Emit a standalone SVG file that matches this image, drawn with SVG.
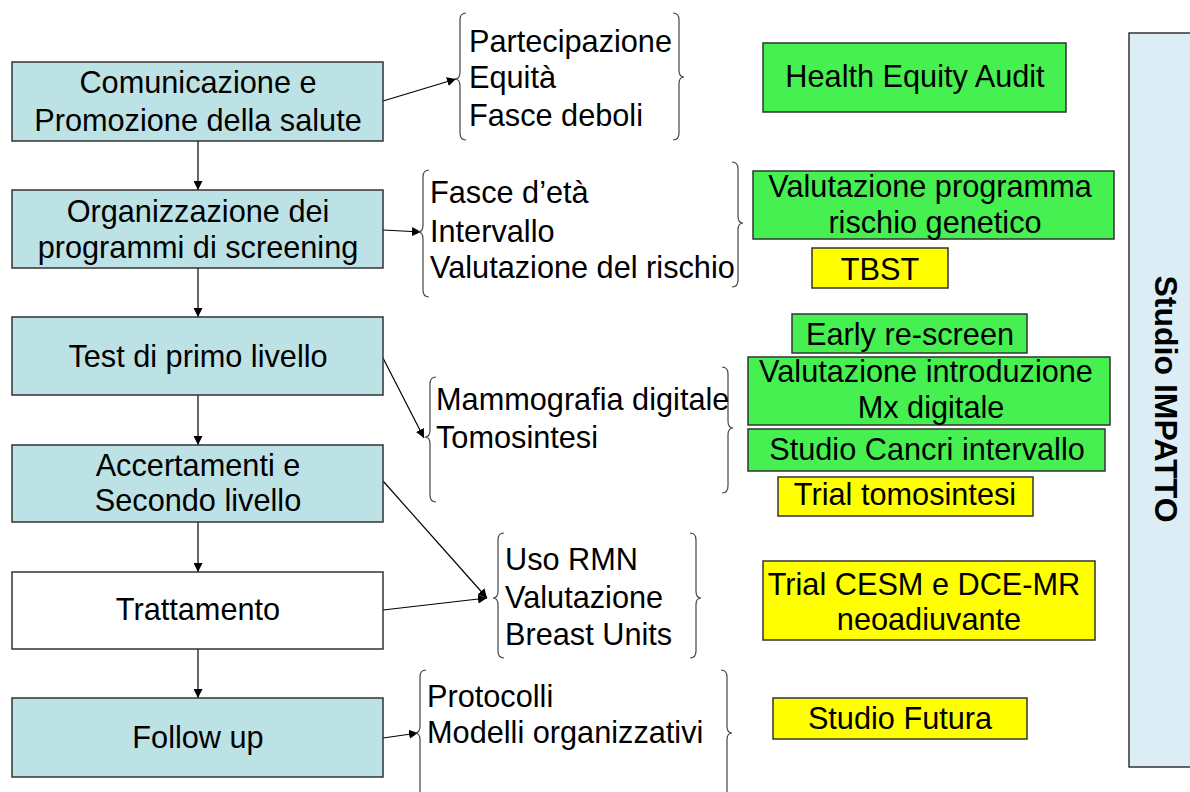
<svg xmlns="http://www.w3.org/2000/svg" width="1190" height="792" viewBox="0 0 1190 792">
<defs>
<style>
text{font-family:"Liberation Sans",Arial,sans-serif;font-size:30.7px;fill:#000}
.c{text-anchor:middle}
.flow{fill:#bde2e6;stroke:#333;stroke-width:1.5}
.white{fill:#fff;stroke:#333;stroke-width:1.5}
.green{fill:#45f050;stroke:#333;stroke-width:1.5}
.yellow{fill:#ffff00;stroke:#333;stroke-width:1.5}
.brace{fill:none;stroke:#444;stroke-width:1.2}
.conn{fill:none;stroke:#000;stroke-width:1.2;marker-end:url(#ah)}
</style>
<marker id="ah" viewBox="0 0 10 10" refX="10" refY="5" markerWidth="9" markerHeight="9" markerUnits="userSpaceOnUse" orient="auto">
<path d="M0,0 L10,5 L0,10 z" fill="#000"/>
</marker>
</defs>
<rect width="1190" height="792" fill="#fff"/>

<g id="studio-impatto">
<rect x="1129" y="33" width="70" height="734" fill="#ddedf6" stroke="#333" stroke-width="1.5"/>
<text class="c" transform="translate(1155,399) rotate(90)" style="font-weight:bold;font-size:32px">Studio IMPATTO</text>
</g>

<g id="connectors">
<line class="conn" x1="198" y1="141" x2="198" y2="190"/>
<line class="conn" x1="198" y1="268" x2="198" y2="317"/>
<line class="conn" x1="198" y1="395" x2="198" y2="445"/>
<line class="conn" x1="198" y1="522" x2="198" y2="572"/>
<line class="conn" x1="198" y1="649" x2="198" y2="698"/>
<line class="conn" x1="383" y1="101" x2="456" y2="79"/>
<line class="conn" x1="383" y1="230" x2="421" y2="232"/>
<line class="conn" x1="383" y1="358" x2="424" y2="438"/>
<line class="conn" x1="383" y1="481" x2="487" y2="598"/>
<line class="conn" x1="383" y1="610" x2="487" y2="598"/>
<line class="conn" x1="383" y1="738" x2="418" y2="733"/>
</g>

<g id="node-comunicazione">
<rect class="flow" x="12" y="62" width="371" height="79"/>
<text class="c" x="198" y="93">Comunicazione e</text>
<text class="c" x="198" y="131">Promozione della salute</text>
</g>
<g id="node-organizzazione">
<rect class="flow" x="12" y="190" width="371" height="78"/>
<text class="c" x="198" y="222">Organizzazione dei</text>
<text class="c" x="198" y="258">programmi di screening</text>
</g>
<g id="node-test">
<rect class="flow" x="12" y="317" width="371" height="78"/>
<text class="c" x="198" y="367">Test di primo livello</text>
</g>
<g id="node-accertamenti">
<rect class="flow" x="12" y="445" width="371" height="77"/>
<text class="c" x="198" y="476">Accertamenti e</text>
<text class="c" x="198" y="511">Secondo livello</text>
</g>
<g id="node-trattamento">
<rect class="white" x="12" y="572" width="371" height="77"/>
<text class="c" x="198" y="620">Trattamento</text>
</g>
<g id="node-followup">
<rect class="flow" x="12" y="698" width="371" height="79"/>
<text class="c" x="198" y="748">Follow up</text>
</g>

<g id="group-partecipazione">
<path class="brace" d="M466,13 Q460,13 460,20 L460,72 Q460,79 455,79 Q460,79 460,86 L460,133 Q460,140 466,140"/>
<path class="brace" d="M673,13 Q679,13 679,20 L679,70 Q679,77 684,77 Q679,77 679,84 L679,133 Q679,140 673,140"/>
<text x="469" y="52">Partecipazione</text>
<text x="469" y="88">Equità</text>
<text x="469" y="126">Fasce deboli</text>
</g>
<g id="group-fasce">
<path class="brace" d="M429,170 Q423,170 423,177 L423,225 Q423,232 418,232 Q423,232 423,239 L423,290 Q423,297 429,297"/>
<path class="brace" d="M732,162 Q738,162 738,169 L738,216 Q738,223 743,223 Q738,223 738,230 L738,280 Q738,287 732,287"/>
<text x="430" y="203">Fasce d’età</text>
<text x="430" y="242">Intervallo</text>
<text x="430" y="278">Valutazione del rischio</text>
</g>
<g id="group-mammografia">
<path class="brace" d="M436,377 Q430,377 430,384 L430,430 Q430,437 425,437 Q430,437 430,444 L430,495 Q430,502 436,502"/>
<path class="brace" d="M722,367 Q728,367 728,374 L728,421 Q728,428 733,428 Q728,428 728,435 L728,486 Q728,493 722,493"/>
<text x="436" y="410">Mammografia digitale</text>
<text x="436" y="448">Tomosintesi</text>
</g>
<g id="group-rmn">
<path class="brace" d="M504,533 Q498,533 498,540 L498,591 Q498,598 493,598 Q498,598 498,605 L498,651 Q498,658 504,658"/>
<path class="brace" d="M690,533 Q696,533 696,540 L696,591 Q696,598 701,598 Q696,598 696,605 L696,651 Q696,658 690,658"/>
<text x="505" y="570">Uso RMN</text>
<text x="505" y="608">Valutazione</text>
<text x="505" y="645">Breast Units</text>
</g>
<g id="group-protocolli">
<path class="brace" d="M426,670 Q420,670 420,677 L420,726 Q420,733 415,733 Q420,733 420,740 L420,792"/>
<path class="brace" d="M721,670 Q727,670 727,677 L727,726 Q727,733 732,733 Q727,733 727,740 L727,792"/>
<text x="427" y="707">Protocolli</text>
<text x="427" y="743">Modelli organizzativi</text>
</g>

<g id="node-hea">
<rect class="green" x="763" y="43" width="303" height="69"/>
<text class="c" x="915" y="87">Health Equity Audit</text>
</g>
<g id="node-rischio-genetico">
<rect class="green" x="753" y="171" width="361" height="68"/>
<text class="c" x="930" y="197">Valutazione programma</text>
<text class="c" x="935" y="233">rischio genetico</text>
</g>
<g id="node-tbst">
<rect class="yellow" x="812" y="248" width="136" height="40"/>
<text class="c" x="880" y="280">TBST</text>
</g>
<g id="node-early">
<rect class="green" x="792" y="314" width="235" height="39"/>
<text class="c" x="910" y="345">Early re-screen</text>
</g>
<g id="node-mx">
<rect class="green" x="748" y="357" width="362" height="68"/>
<text class="c" x="926" y="382">Valutazione introduzione</text>
<text class="c" x="931" y="418">Mx digitale</text>
</g>
<g id="node-cancri">
<rect class="green" x="748" y="429" width="357" height="42"/>
<text class="c" x="927" y="460">Studio Cancri intervallo</text>
</g>
<g id="node-trial-tomo">
<rect class="yellow" x="778" y="477" width="255" height="39"/>
<text class="c" x="905" y="505">Trial tomosintesi</text>
</g>
<g id="node-cesm">
<rect class="yellow" x="763" y="561" width="332" height="79"/>
<text class="c" x="924" y="595">Trial CESM e DCE-MR</text>
<text class="c" x="929" y="630">neoadiuvante</text>
</g>
<g id="node-futura">
<rect class="yellow" x="773" y="698" width="254" height="41"/>
<text class="c" x="900" y="729">Studio Futura</text>
</g>
</svg>
